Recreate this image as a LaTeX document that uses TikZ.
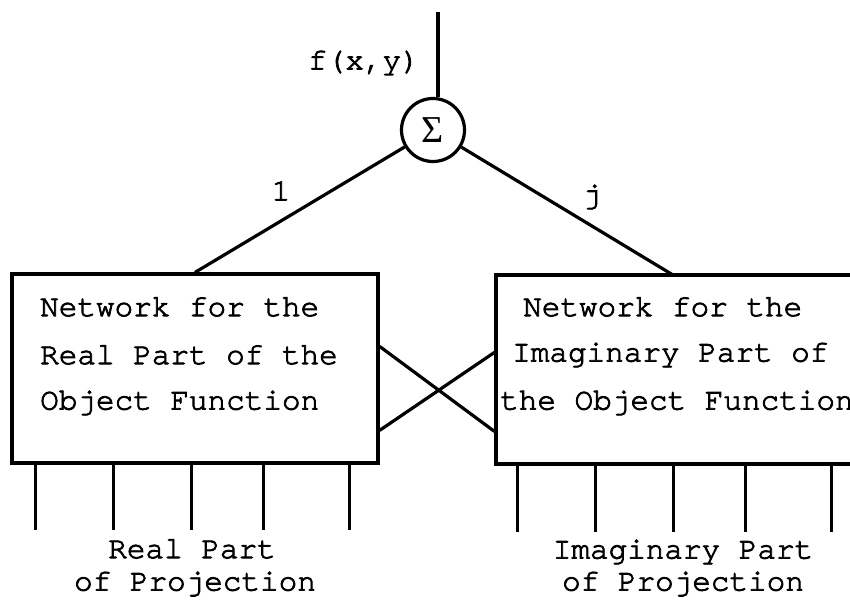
\documentclass[tikz,border=0pt]{standalone}
\usepackage{fontspec}
\newfontfamily\sigfont{Liberation Serif}
\newfontfamily\courotf{texgyrecursor-regular.otf}[FakeBold=2.6]
\usetikzlibrary{calc}
\newcommand{\courfont}{\courotf\fontsize{31}{36}\selectfont}
\newcommand{\sigmasym}{{\sigfont\fontsize{38}{38}\selectfont Σ}}
\tikzset{
  wire/.style={line width=3.2pt, black},
  netbox/.style={draw, line width=3.2pt, rectangle, inner sep=0pt},
  mono/.style={font=\courfont, inner sep=0pt},
  sumnode/.style={draw, circle, line width=3.2pt, minimum size=63pt, inner sep=0pt}
}
\begin{document}
\begin{tikzpicture}[x=1pt,y=-1pt]
\useasboundingbox (0,0) rectangle (850,599);
% boxes
\node[netbox, minimum width=366pt, minimum height=189pt] (lbox) at (195,368.5) {};
\node[netbox, minimum width=370pt, minimum height=189pt] (rbox) at (681,369.5) {};
% sum
\node[sumnode] (sum) at (433,130) {\sigmasym};
\coordinate (top) at (438,12);
\draw[wire] (top) -- (top |- sum.north);
\node[mono, anchor=east] (fxy) at (420,63) {f(x,y)};
% connections to sum
\coordinate (rt) at (673,275);
\draw[wire] (lbox.north) -- (sum);
\draw[wire] (rt) -- (sum);
\node[mono] (one) at (281,191) {1};
\node[mono] (jj) at (592,197) {j};
% cross connections
\coordinate (la) at ($(lbox.north east)+(0,74)$);
\coordinate (lb) at ($(lbox.north east)+(0,158)$);
\coordinate (ra) at ($(rbox.north west)+(0,79)$);
\coordinate (rb) at ($(rbox.north west)+(0,158)$);
\draw[wire] (la) -- (rb);
\draw[wire] (lb) -- (ra);
% box texts
\node[mono, anchor=west] (l1) at (40,307) {Network for the};
\node[mono, anchor=west] (l2) at (40,355) {Real Part of the};
\node[mono, anchor=west] (l3) at (40,403) {Object Function};
\node[mono, anchor=west] (r1) at (523,307) {Network for the};
\node[mono, anchor=west] (r2) at (512,355) {Imaginary Part of};
\node[mono, anchor=west] (r3) at (500,403) {the Object Function};
% legs
\foreach \dx in {25,103,181,253,339} {
  \draw[wire] ($(lbox.south west)+(\dx,0)$) -- ++(0,65);
}
\foreach \dx in {23,101,179,251,337} {
  \draw[wire] ($(rbox.south west)+(\dx,0)$) -- ++(0,66);
}
% bottom labels
\node[mono] (lp1) at (192,549) {Real Part};
\node[mono] (lp2) at (195,584) {of Projection};
\node[mono] (rp1) at (683,552) {Imaginary Part};
\node[mono] (rp2) at (683,584) {of Projection};
\end{tikzpicture}
\end{document}
